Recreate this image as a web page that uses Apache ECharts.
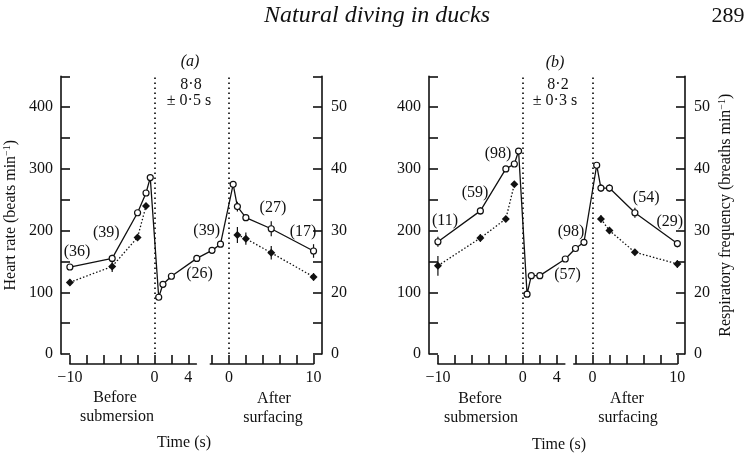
<!DOCTYPE html>
<html lang="en">
<head>
<meta charset="UTF-8">
<title>Natural diving in ducks</title>
<script src="https://cdn.jsdelivr.net/npm/echarts@6.0.0/dist/echarts.min.js"></script>
<style>
  html, body { margin: 0; padding: 0; background: #fff; }
  #chart { width: 755px; height: 456px; }
</style>
</head>
<body>
<div id="chart"></div>
<script>
// times (s): before submersion / early dive are relative to submersion,
// late dive / after surfacing are relative to surfacing
var subTimes = [-10, -5, -2, -1, -0.5, 0.5, 1, 2, 5];
var surfTimes = [-2, -1, 0.5, 1, 2, 5, 10];
var respSubTimes = [-10, -5, -2, -1];
var respSurfTimes = [1, 2, 5, 10];

// (a)  dive duration 8.8 s
var diveA = 8.8;
var hrSubA = [141, 155, 229, 261, 286, 92, 113, 126, 155];
var hrSurfA = [168, 178, 275, 239, 221, 203, 167];
var respSubA = [21.6, 24.2, 28.9, 34.0];
var respSurfA = [29.3, 28.7, 26.4, 22.5];
var hrSubErrA = [3, 6, 0, 0, 0, 0, 0, 0, 0];
var hrSurfErrA = [0, 0, 0, 8, 0, 12, 11];
var respSubErrA = [0.5, 0.9, 0, 0];
var respSurfErrA = [1.3, 1.0, 1.1, 0.6];
var countsA = ['(36)', '(39)', '(39)', '(26)', '(27)', '(17)'];

// (b)  dive duration 8.2 s
var diveB = 8.2;
var hrSubB = [182, 232, 300, 308, 329, 97, 127, 127, 154];
var hrSurfB = [171, 181, 306, 269, 269, 229, 179];
var respSubB = [24.3, 28.8, 31.9, 37.5];
var respSurfB = [31.9, 30.0, 26.5, 24.6];
var hrSubErrB = [8, 6, 0, 0, 0, 0, 0, 0, 0];
var hrSurfErrB = [0, 0, 0, 6, 6, 8, 6];
var respSubErrB = [1.6, 0.6, 0, 0];
var respSurfErrB = [0.6, 0.5, 0.5, 0.6];
var countsB = ['(11)', '(59)', '(98)', '(98)', '(57)', '(54)', '(29)'];

var leftTicks = [0, 100, 200, 300, 400];
var rightTicks = [10, 20, 30, 40, 50];   // lowest is shown as 0 (broken axis)

// where the n labels sit (time on the joined axis, heart-rate units)
var countPosA = [[-9.15, 166], [-5.69, 196], [6.17, 199], [5.33, 130], [14.0, 237], [17.55, 198]];
var countPosB = [[-9.17, 216], [-5.63, 261], [-2.92, 324], [5.68, 198], [5.26, 128], [14.53, 254], [17.3, 214]];

var FONT = '"Liberation Serif", "DejaVu Serif", serif';
var INK = '#111';
var GRID_TOP = 76.4, GRID_BOT = 354, AXIS_Y = 364;

var chart = echarts.init(document.getElementById('chart'));

var grids = [], xAxes = [], yAxes = [], series = [];

function minus(v) { return String(v).replace('-', '\u2212'); }

function addPanel(p) {
  var g = grids.length, ya = yAxes.length;
  var px = function (v) { return p.left + (v - p.vmin) / (p.vmax - p.vmin) * (p.right - p.left); };
  var axLine = { onZero: false, lineStyle: { color: INK, width: 1.6 } };
  var lab = { fontFamily: FONT, fontSize: 16, color: INK };

  // main plotting grid
  grids.push({ left: p.left, width: p.right - p.left, top: GRID_TOP, height: GRID_BOT - GRID_TOP });
  // two pieces of the broken time axis
  var s1a = px(-10), s1b = px(4.95), s2a = px(p.dive - 2.2), s2b = px(p.dive + 10);
  grids.push({ left: s1a, width: s1b - s1a, top: GRID_BOT, height: AXIS_Y - GRID_BOT });
  grids.push({ left: s2a, width: s2b - s2a, top: GRID_BOT, height: AXIS_Y - GRID_BOT });

  xAxes.push({ type: 'value', gridIndex: g, min: p.vmin, max: p.vmax, show: false });
  xAxes.push({
    type: 'value', gridIndex: g + 1, min: -10, max: 4.95,
    axisLine: axLine,
    axisTick: { inside: true, length: 9, customValues: [-10, -8, -6, -4, -2, 0, 2, 4], lineStyle: { color: INK, width: 1.6 } },
    axisLabel: Object.assign({ customValues: [-10, 0, 4], margin: 6, formatter: minus }, lab),
    splitLine: { show: false }
  });
  xAxes.push({
    type: 'value', gridIndex: g + 2, min: -2.2, max: 10,
    axisLine: axLine,
    axisTick: { inside: true, length: 9, customValues: [-2, 0, 2, 4, 6, 8, 10], lineStyle: { color: INK, width: 1.6 } },
    axisLabel: Object.assign({ customValues: [0, 10], margin: 6 }, lab),
    splitLine: { show: false }
  });

  var nameStyle = { fontFamily: FONT, fontSize: 16, color: INK, rich: { s: { fontFamily: FONT, fontSize: 10, color: INK, padding: [0, 0, 8, 0] } } };
  yAxes.push({
    type: 'value', gridIndex: g, position: 'left', min: 0, max: 450, interval: 50,
    axisLine: { show: true, onZero: false, lineStyle: { color: INK, width: 1.6 } },
    axisTick: { inside: true, length: 9, lineStyle: { color: INK, width: 1.6 } },
    axisLabel: Object.assign({ customValues: leftTicks, margin: 8 }, lab),
    splitLine: { show: false },
    name: p.leftName || '', nameLocation: 'middle', nameGap: 41, nameTextStyle: nameStyle
  });
  yAxes.push({
    type: 'value', gridIndex: g, position: 'right', min: 10, max: 55, interval: 5,
    axisLine: { show: true, onZero: false, lineStyle: { color: INK, width: 1.6 } },
    axisTick: { inside: true, length: 9, lineStyle: { color: INK, width: 1.6 } },
    axisLabel: Object.assign({ customValues: rightTicks, margin: 9, formatter: function (v) { return v === 10 ? '0' : v; } }, lab),
    splitLine: { show: false },
    name: p.rightName || '', nameLocation: 'middle', nameGap: 32, nameRotate: 90, nameTextStyle: nameStyle
  });
  yAxes.push({ type: 'value', gridIndex: g + 1, show: false, min: 0, max: 1 });
  yAxes.push({ type: 'value', gridIndex: g + 2, show: false, min: 0, max: 1 });

  // join the two time bases: surfacing sits at the dive duration
  var hr = [], hrErr = [];
  subTimes.forEach(function (t, i) {
    hr.push([t, p.hrSub[i]]);
    if (p.hrSubErr[i]) hrErr.push([t, p.hrSub[i] - p.hrSubErr[i], p.hrSub[i] + p.hrSubErr[i]]);
  });
  surfTimes.forEach(function (t, i) {
    hr.push([p.dive + t, p.hrSurf[i]]);
    if (p.hrSurfErr[i]) hrErr.push([p.dive + t, p.hrSurf[i] - p.hrSurfErr[i], p.hrSurf[i] + p.hrSurfErr[i]]);
  });
  var respPre = [], respPost = [], respErr = [];
  respSubTimes.forEach(function (t, i) {
    respPre.push([t, p.respSub[i]]);
    if (p.respSubErr[i]) respErr.push([t, p.respSub[i] - p.respSubErr[i], p.respSub[i] + p.respSubErr[i]]);
  });
  respSurfTimes.forEach(function (t, i) {
    respPost.push([p.dive + t, p.respSurf[i]]);
    if (p.respSurfErr[i]) respErr.push([p.dive + t, p.respSurf[i] - p.respSurfErr[i], p.respSurf[i] + p.respSurfErr[i]]);
  });

  var errBars = function (params, api) {
    var a = api.coord([api.value(0), api.value(1)]);
    var b = api.coord([api.value(0), api.value(2)]);
    return { type: 'line', shape: { x1: a[0], y1: a[1], x2: b[0], y2: b[1] }, style: { stroke: INK, lineWidth: 1.2 } };
  };

  series.push({
    type: 'custom', xAxisIndex: g, yAxisIndex: ya, data: hrErr,
    encode: { x: 0, y: [1, 2] }, renderItem: errBars, silent: true, z: 1
  });
  series.push({
    type: 'custom', xAxisIndex: g, yAxisIndex: ya + 1, data: respErr,
    encode: { x: 0, y: [1, 2] }, renderItem: errBars, silent: true, z: 1
  });
  [respPre, respPost].forEach(function (d) {
    series.push({
      type: 'line', xAxisIndex: g, yAxisIndex: ya + 1, data: d,
      symbol: 'diamond', symbolSize: 8, itemStyle: { color: INK },
      lineStyle: { color: INK, width: 1.3, type: [1.5, 2] }, z: 2
    });
  });
  series.push({
    type: 'line', xAxisIndex: g, yAxisIndex: ya, data: hr,
    symbol: 'circle', symbolSize: 6,
    itemStyle: { color: '#fff', borderColor: INK, borderWidth: 1.2 },
    lineStyle: { color: INK, width: 1.3 }, z: 3,
    markLine: {
      silent: true, symbol: ['none', 'none'], label: { show: false },
      lineStyle: { color: INK, width: 1.7, type: [1.6, 3.4] },
      data: [{ xAxis: 0 }, { xAxis: p.dive }]
    }
  });
  series.push({
    type: 'scatter', xAxisIndex: g, yAxisIndex: ya, symbolSize: 1,
    itemStyle: { color: 'rgba(0,0,0,0)' }, silent: true, z: 4,
    data: p.counts.map(function (c, i) { return { value: p.countPos[i], name: c }; }),
    label: { show: true, position: 'inside', formatter: '{b}', fontFamily: FONT, fontSize: 16,
             color: INK, opacity: 1, textBorderWidth: 0 }
  });
}

addPanel({
  left: 61, right: 322, vmin: -11.05, vmax: 19.8, dive: diveA,
  hrSub: hrSubA, hrSurf: hrSurfA, respSub: respSubA, respSurf: respSurfA,
  hrSubErr: hrSubErrA, hrSurfErr: hrSurfErrA, respSubErr: respSubErrA, respSurfErr: respSurfErrA,
  counts: countsA, countPos: countPosA,
  leftName: 'Heart rate (beats min{s|\u22121})'
});
addPanel({
  left: 429, right: 685, vmin: -11.05, vmax: 19.1, dive: diveB,
  hrSub: hrSubB, hrSurf: hrSurfB, respSub: respSubB, respSurf: respSurfB,
  hrSubErr: hrSubErrB, hrSurfErr: hrSurfErrB, respSubErr: respSubErrB, respSurfErr: respSurfErrB,
  counts: countsB, countPos: countPosB,
  rightName: 'Respiratory frequency (breaths min{s|\u22121})'
});

function txt(x, y, s, size, italic) {
  return {
    type: 'text', x: x, y: y, silent: true,
    style: { text: s, fontFamily: FONT, fontSize: size || 16, fontStyle: italic ? 'italic' : 'normal',
             fill: INK, align: 'center', verticalAlign: 'middle' }
  };
}

var option = {
  backgroundColor: '#fff',
  animation: false,
  grid: grids.map(function (g) { return Object.assign({ outerBoundsMode: 'none' }, g); }),
  xAxis: xAxes,
  yAxis: yAxes,
  series: series,
  graphic: [
    txt(377, 16, 'Natural diving in ducks', 24, true),
    txt(728, 16, '289', 22),
    txt(190, 62, '(a)', 16, true),
    txt(191, 85, '8\u00b78', 16),
    txt(189, 101, '\u00b1 0\u00b75 s', 16),
    txt(555, 63, '(b)', 16, true),
    txt(558, 85, '8\u00b72', 16),
    txt(555, 101, '\u00b1 0\u00b73 s', 16),
    txt(115, 398, 'Before', 16),
    txt(117, 417, 'submersion', 16),
    txt(274, 399, 'After', 16),
    txt(273, 418, 'surfacing', 16),
    txt(184, 443, 'Time (s)', 16),
    txt(480, 399, 'Before', 16),
    txt(481, 418, 'submersion', 16),
    txt(627, 399, 'After', 16),
    txt(628, 418, 'surfacing', 16),
    txt(559, 445, 'Time (s)', 16)
  ]
};

chart.setOption(option);
</script>
</body>
</html>
